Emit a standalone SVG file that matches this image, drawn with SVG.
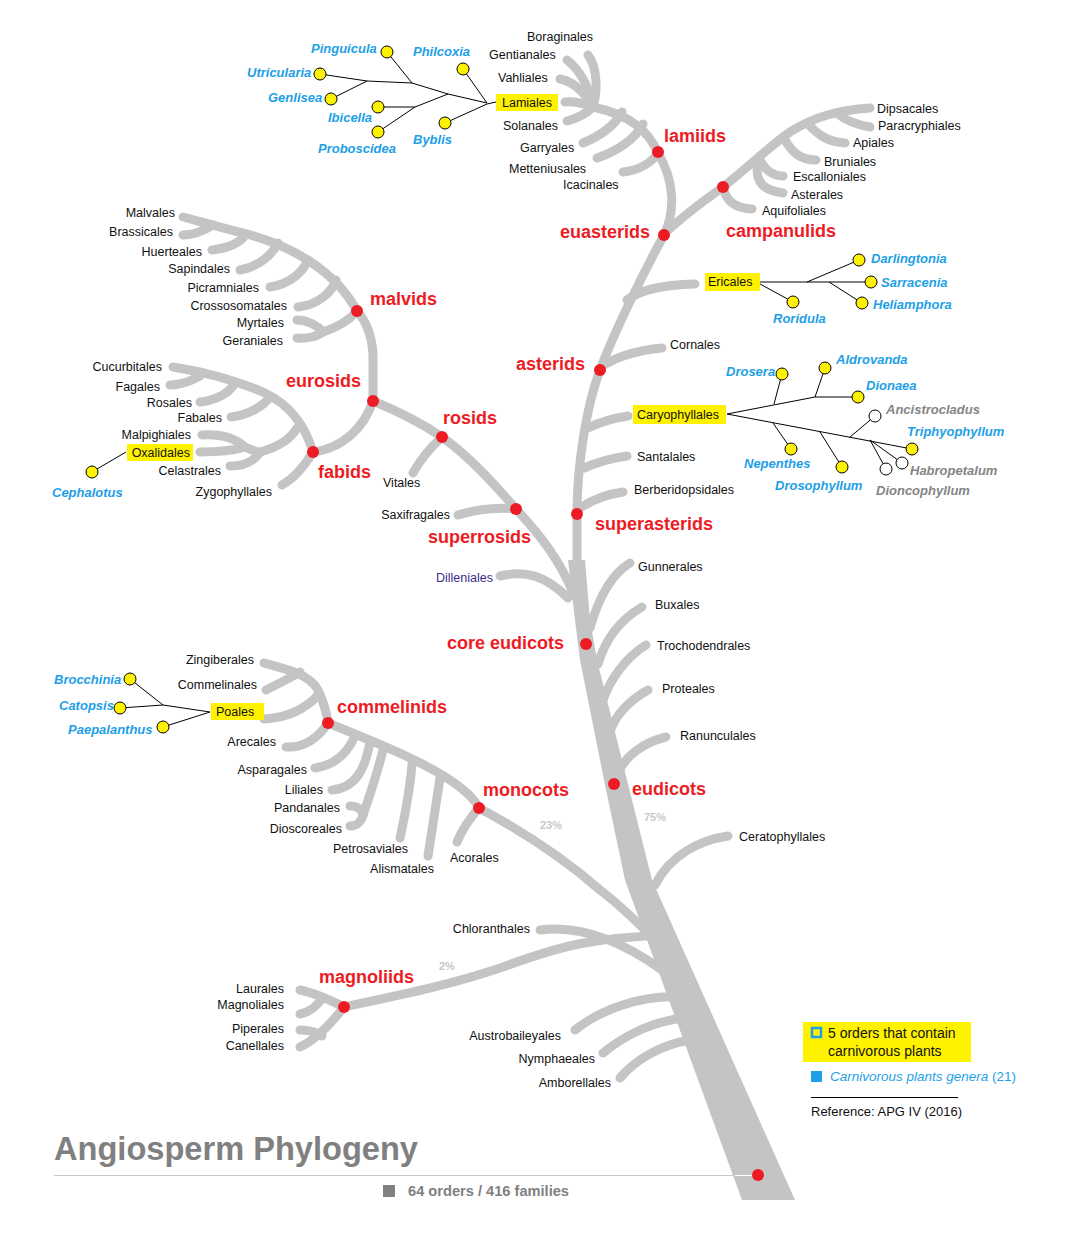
<svg xmlns="http://www.w3.org/2000/svg" width="1065" height="1239" viewBox="0 0 1065 1239">
<defs>
<style>
.br{fill:none;stroke:#c4c4c4;stroke-width:9;stroke-linecap:round;stroke-linejoin:round}
.ln{fill:none;stroke:#000;stroke-width:1}
.o{font-family:"Liberation Sans",Arial,sans-serif;font-size:12.5px;fill:#111}
.e{text-anchor:end}
.r{font-family:"Liberation Sans",Arial,sans-serif;font-size:18px;font-weight:bold;fill:#ed1c24}
.g{font-family:"Liberation Sans",Arial,sans-serif;font-size:13px;font-weight:bold;font-style:italic;fill:#1e9fe6}
.gg{fill:#858585}
.dot{fill:#ed1c24}
.yc{fill:#fff200;stroke:#000;stroke-width:1}
.wc{fill:#fff;stroke:#000;stroke-width:1}
.hl{fill:#fff200}
.pc{font-family:"Liberation Sans",Arial,sans-serif;font-size:11px;font-weight:bold;fill:#c8c8c8}
</style>
</defs>
<rect width="1065" height="1239" fill="#fff"/>

<g id="connectors">
<!-- trunk -->
<path d="M568,560 L575,620 L580,660 L604,780 L625,880 L742,1200 L795,1200 L652,880 L627,780 L597,660 L590,620 L585,560 Z" fill="#c4c4c4"/>
<path class="br" stroke-width="11" d="M577,575 L577,514 C577,470 585,410 600,370 C615,330 645,270 664,235 C676,210 674,180 658,153 C648,130 630,115 593,107"/>
<!-- lamiids -->
<path class="br" d="M588,55 C598,68 598,95 592,107"/>
<path class="br" d="M567,60 C580,70 590,88 592,107"/>
<path class="br" d="M560,79 C575,82 587,95 592,107"/>
<path class="br" d="M565,102 C575,101 585,104 593,107"/>
<path class="br" d="M567,121 C578,118 588,112 593,107"/>
<path class="br" d="M583,143 C600,136 615,125 622,112"/>
<path class="br" d="M597,158 C615,152 635,140 643,124"/>
<path class="br" d="M623,172 C640,170 652,162 658,153"/>
<!-- campanulids -->
<path class="br" d="M666,232 C690,210 705,200 723,187 C745,170 765,150 790,132 C815,116 840,110 870,108"/>
<path class="br" d="M838,114 C848,122 858,125 870,127"/>
<path class="br" d="M808,124 C818,135 828,142 845,143"/>
<path class="br" d="M785,140 C792,152 800,160 816,160"/>
<path class="br" d="M760,160 C765,170 772,176 783,176"/>
<path class="br" d="M757,168 C757,182 762,190 783,193"/>
<path class="br" d="M723,187 C726,200 733,208 752,209"/>
<!-- asterids -->
<path class="br" d="M627,300 C640,290 660,285 695,284"/>
<path class="br" d="M602,366 C620,355 640,350 662,348"/>
<path class="br" d="M588,428 C600,422 615,418 628,416"/>
<path class="br" d="M584,468 C598,462 612,458 627,456"/>
<path class="br" d="M580,508 C592,500 608,494 623,492"/>
<!-- rosids -->
<path class="br" d="M373,401 C395,410 420,422 442,437"/>
<path class="br" stroke-width="12" d="M442,437 C470,457 495,485 516,509"/>
<path class="br" stroke-width="15" d="M516,509 C540,535 560,560 574,595"/>
<path class="br" d="M442,437 C430,448 420,460 413,473"/>
<path class="br" d="M516,509 C495,507 475,510 458,515"/>
<!-- malvids -->
<path class="br" d="M373,401 L373,355 C372,335 365,320 357,311"/>
<path class="br" d="M357,311 C335,270 290,245 243,233 C215,226 195,220 183,217"/>
<path class="br" d="M183,235 C195,235 205,230 213,225"/>
<path class="br" d="M212,250 C228,248 240,243 245,235"/>
<path class="br" d="M240,270 C258,267 272,255 278,243"/>
<path class="br" d="M270,287 C290,284 303,272 308,260"/>
<path class="br" d="M298,307 C318,305 332,292 336,280"/>
<path class="br" d="M297,320 C308,320 318,326 323,332"/>
<path class="br" d="M297,338 C308,339 318,336 323,332"/>
<path class="br" d="M323,332 C335,328 348,322 357,311"/>
<!-- fabids -->
<path class="br" d="M373,401 C365,425 345,448 313,452"/>
<path class="br" d="M313,452 C305,465 295,478 282,485"/>
<path class="br" d="M313,452 C305,425 290,405 265,393 C240,382 205,372 173,367"/>
<path class="br" d="M170,385 C183,385 192,380 200,376"/>
<path class="br" d="M200,402 C218,400 230,392 235,383"/>
<path class="br" d="M231,417 C250,415 264,405 270,397"/>
<path class="br" d="M202,435 C220,434 235,438 245,447"/>
<path class="br" d="M200,452 C215,452 232,451 245,447"/>
<path class="br" d="M230,466 C245,466 255,460 260,452"/>
<path class="br" d="M245,447 C252,450 256,452 260,452 C275,448 290,440 297,428"/>
<!-- Dilleniales -->
<path class="br" d="M500,576 C525,570 545,575 568,598"/>
<!-- core eudicots -->
<path class="br" d="M630,563 C610,575 598,600 590,628"/>
<path class="br" d="M642,607 C620,620 605,640 598,664"/>
<path class="br" d="M646,645 C625,658 610,680 603,700"/>
<path class="br" d="M648,690 C630,700 615,715 610,732"/>
<path class="br" d="M666,737 C645,742 625,755 617,775"/>
<path class="br" d="M728,836 C700,840 670,855 655,885"/>
<!-- monocots -->
<path class="br" stroke-width="12" d="M479,808 C520,830 560,855 600,890 C620,905 635,920 650,935"/>
<path class="br" d="M328,723 C370,740 420,760 450,780 C465,790 475,800 479,808"/>
<path class="br" d="M264,663 C290,670 310,675 318,690 C325,705 327,715 328,723"/>
<path class="br" d="M266,690 C280,683 290,678 300,672"/>
<path class="br" d="M264,719 C285,718 305,710 318,695"/>
<path class="br" d="M286,747 C305,748 318,738 328,723"/>
<path class="br" d="M315,768 C335,765 348,752 355,736"/>
<path class="br" d="M332,790 C355,788 365,770 370,742"/>
<path class="br" d="M350,806 C358,806 362,810 363,815"/>
<path class="br" d="M350,826 C358,826 362,820 363,815"/>
<path class="br" d="M363,815 C370,795 378,770 383,750"/>
<path class="br" d="M400,838 C405,815 410,790 412,764"/>
<path class="br" d="M428,856 C432,830 436,805 440,778"/>
<path class="br" d="M479,808 C470,818 462,830 457,842"/>
<!-- magnoliids and basal -->
<path class="br" stroke-width="12" d="M344,1007 C400,995 450,985 500,968 C550,950 580,938 670,935"/>
<path class="br" d="M300,990 C315,993 330,1000 344,1007"/>
<path class="br" d="M300,1014 C310,1012 318,1005 322,998"/>
<path class="br" d="M300,1030 C310,1030 318,1033 322,1036"/>
<path class="br" d="M300,1047 C315,1040 330,1025 344,1007"/>
<path class="br" d="M540,930 C580,925 620,940 662,970"/>
<path class="br" d="M575,1030 C600,1010 640,995 680,997"/>
<path class="br" d="M603,1053 C625,1035 655,1020 686,1018"/>
<path class="br" d="M620,1078 C635,1060 660,1045 690,1040"/>
<!-- base line -->
<line x1="54" y1="1175.5" x2="735" y2="1175.5" stroke="#c8c8c8" stroke-width="1"/>
<line x1="735" y1="1175.5" x2="752" y2="1175.5" stroke="#fff" stroke-width="1"/>
<!-- genera lines -->
<path class="ln" d="M320,74 L367,81 L412,83 L448,94 L487,103 M331,99 L367,81 M387,52 L412,83 M378,107 L415,107 L448,94 M378,132 L415,107 M463,69 L487,103 M445,123 L487,104 L496,102"/>
<path class="ln" d="M760,282 L871,282 M807,282 L859,260 M829,282 L862,303 M760,284 L793,302"/>
<path class="ln" d="M727,414 L815,397 L858,397 M782,374 L774,404 M825,368 L815,397 M727,414 L912,449 M773,423 L791,449 M820,432 L842,467 M850,437 L875,416 M870,440 L902,463 M870,440 L886,469"/>
<path class="ln" d="M126,452 L92,472"/>
<path class="ln" d="M130,679 L163,705 L210,712 M120,708 L163,705 M163,727 L210,712"/>
</g>

<g id="lamiales-genera">
<circle class="yc" cx="387" cy="52" r="6"/><circle class="yc" cx="463" cy="69" r="6"/>
<circle class="yc" cx="320" cy="74" r="6"/><circle class="yc" cx="331" cy="99" r="6"/>
<circle class="yc" cx="378" cy="107" r="6"/><circle class="yc" cx="378" cy="132" r="6"/>
<circle class="yc" cx="445" cy="123" r="6"/>
<text class="g" x="311" y="53">Pinguicula</text>
<text class="g" x="413" y="56">Philcoxia</text>
<text class="g" x="247" y="77">Utricularia</text>
<text class="g" x="268" y="102">Genlisea</text>
<text class="g" x="328" y="122">Ibicella</text>
<text class="g" x="318" y="153">Proboscidea</text>
<text class="g" x="413" y="144">Byblis</text>
</g>

<g id="lamiids">
<rect class="hl" x="496" y="94" width="62" height="17"/>
<text class="o" x="527" y="107" text-anchor="middle">Lamiales</text>
<text class="o" x="527" y="41">Boraginales</text>
<text class="o" x="489" y="59">Gentianales</text>
<text class="o" x="498" y="82">Vahliales</text>
<text class="o" x="503" y="130">Solanales</text>
<text class="o" x="520" y="152">Garryales</text>
<text class="o" x="509" y="173">Metteniusales</text>
<text class="o" x="563" y="189">Icacinales</text>
<circle class="dot" cx="658" cy="152" r="6"/>
<text class="r" x="664" y="142">lamiids</text>
</g>

<g id="campanulids">
<text class="o" x="877" y="113">Dipsacales</text>
<text class="o" x="878" y="130">Paracryphiales</text>
<text class="o" x="853" y="147">Apiales</text>
<text class="o" x="824" y="166">Bruniales</text>
<text class="o" x="793" y="181">Escalloniales</text>
<text class="o" x="791" y="199">Asterales</text>
<text class="o" x="762" y="215">Aquifoliales</text>
<circle class="dot" cx="723" cy="187" r="6"/>
<text class="r" x="726" y="237">campanulids</text>
</g>

<g id="euasterids">
<circle class="dot" cx="664" cy="235" r="6"/>
<text class="r" x="560" y="238">euasterids</text>
</g>

<g id="ericales">
<rect class="hl" x="705" y="273" width="55" height="18"/>
<text class="o" x="708" y="286">Ericales</text>
<circle class="yc" cx="859" cy="260" r="6"/><circle class="yc" cx="871" cy="282" r="6"/>
<circle class="yc" cx="862" cy="303" r="6"/><circle class="yc" cx="793" cy="302" r="6"/>
<text class="g" x="871" y="263">Darlingtonia</text>
<text class="g" x="881" y="287">Sarracenia</text>
<text class="g" x="873" y="309">Heliamphora</text>
<text class="g" x="773" y="323">Roridula</text>
</g>

<g id="asterids">
<text class="o" x="670" y="349">Cornales</text>
<circle class="dot" cx="600" cy="370" r="6"/>
<text class="r" x="516" y="370">asterids</text>
</g>

<g id="caryophyllales">
<rect class="hl" x="633" y="405" width="93" height="19"/>
<text class="o" x="637" y="419">Caryophyllales</text>
<circle class="yc" cx="782" cy="374" r="6"/><circle class="yc" cx="825" cy="368" r="6"/>
<circle class="yc" cx="858" cy="397" r="6"/><circle class="wc" cx="875" cy="416" r="6"/>
<circle class="yc" cx="912" cy="449" r="6"/><circle class="wc" cx="902" cy="463" r="6"/>
<circle class="wc" cx="886" cy="469" r="6"/><circle class="yc" cx="791" cy="449" r="6"/>
<circle class="yc" cx="842" cy="467" r="6"/>
<text class="g" x="726" y="376">Drosera</text>
<text class="g" x="836" y="364">Aldrovanda</text>
<text class="g" x="866" y="390">Dionaea</text>
<text class="g gg" x="886" y="414">Ancistrocladus</text>
<text class="g" x="907" y="436">Triphyophyllum</text>
<text class="g gg" x="910" y="475">Habropetalum</text>
<text class="g gg" x="876" y="495">Dioncophyllum</text>
<text class="g" x="744" y="468">Nepenthes</text>
<text class="g" x="775" y="490">Drosophyllum</text>
</g>

<g id="superasterids">
<text class="o" x="637" y="461">Santalales</text>
<text class="o" x="634" y="494">Berberidopsidales</text>
<circle class="dot" cx="577" cy="514" r="6"/>
<text class="r" x="595" y="530">superasterids</text>
</g>

<g id="malvids">
<text class="o e" x="175" y="217">Malvales</text>
<text class="o e" x="173" y="236">Brassicales</text>
<text class="o e" x="202" y="256">Huerteales</text>
<text class="o e" x="230" y="273">Sapindales</text>
<text class="o e" x="259" y="292">Picramniales</text>
<text class="o e" x="287" y="310">Crossosomatales</text>
<text class="o e" x="284" y="327">Myrtales</text>
<text class="o e" x="283" y="345">Geraniales</text>
<circle class="dot" cx="357" cy="311" r="6"/>
<text class="r" x="370" y="305">malvids</text>
</g>

<g id="eurosids">
<circle class="dot" cx="373" cy="401" r="6"/>
<text class="r" x="286" y="387">eurosids</text>
</g>

<g id="fabids">
<text class="o e" x="162" y="371">Cucurbitales</text>
<text class="o e" x="160" y="391">Fagales</text>
<text class="o e" x="192" y="407">Rosales</text>
<text class="o e" x="222" y="422">Fabales</text>
<text class="o e" x="191" y="439">Malpighiales</text>
<rect class="hl" x="127" y="444" width="66" height="17"/>
<text class="o e" x="190" y="457">Oxalidales</text>
<text class="o e" x="221" y="475">Celastrales</text>
<text class="o e" x="272" y="496">Zygophyllales</text>
<circle class="yc" cx="92" cy="472" r="6"/>
<text class="g" x="52" y="497">Cephalotus</text>
<circle class="dot" cx="313" cy="452" r="6"/>
<text class="r" x="318" y="478">fabids</text>
</g>

<g id="rosids">
<circle class="dot" cx="442" cy="437" r="6"/>
<text class="r" x="443" y="424">rosids</text>
<text class="o" x="383" y="487">Vitales</text>
</g>

<g id="superrosids">
<text class="o e" x="450" y="519">Saxifragales</text>
<circle class="dot" cx="516" cy="509" r="6"/>
<text class="r" x="428" y="543">superrosids</text>
<text class="o e" x="493" y="582" style="fill:#3d2b8f">Dilleniales</text>
</g>

<g id="core-eudicots">
<text class="o" x="638" y="571">Gunnerales</text>
<text class="o" x="655" y="609">Buxales</text>
<text class="o" x="657" y="650">Trochodendrales</text>
<text class="o" x="662" y="693">Proteales</text>
<text class="o" x="680" y="740">Ranunculales</text>
<circle class="dot" cx="586" cy="644" r="6"/>
<text class="r" x="447" y="649">core eudicots</text>
</g>

<g id="eudicots">
<circle class="dot" cx="614" cy="784" r="6"/>
<text class="r" x="632" y="795">eudicots</text>
<text class="pc" x="644" y="821">75%</text>
<text class="o" x="739" y="841">Ceratophyllales</text>
</g>

<g id="commelinids">
<text class="o e" x="254" y="664">Zingiberales</text>
<text class="o e" x="257" y="689">Commelinales</text>
<rect class="hl" x="211" y="703" width="53" height="17"/>
<text class="o" x="216" y="716">Poales</text>
<text class="o e" x="276" y="746">Arecales</text>
<circle class="yc" cx="130" cy="679" r="6"/><circle class="yc" cx="120" cy="708" r="6"/>
<circle class="yc" cx="163" cy="727" r="6"/>
<text class="g" x="54" y="684">Brocchinia</text>
<text class="g" x="59" y="710">Catopsis</text>
<text class="g" x="68" y="734">Paepalanthus</text>
<circle class="dot" cx="328" cy="723" r="6"/>
<text class="r" x="337" y="713">commelinids</text>
</g>

<g id="monocots">
<text class="o e" x="307" y="774">Asparagales</text>
<text class="o e" x="323" y="794">Liliales</text>
<text class="o e" x="340" y="812">Pandanales</text>
<text class="o e" x="342" y="833">Dioscoreales</text>
<text class="o e" x="408" y="853">Petrosaviales</text>
<text class="o e" x="434" y="873">Alismatales</text>
<text class="o" x="450" y="862">Acorales</text>
<circle class="dot" cx="479" cy="808" r="6"/>
<text class="r" x="483" y="796">monocots</text>
<text class="pc" x="540" y="829">23%</text>
</g>

<g id="magnoliids">
<text class="o e" x="530" y="933">Chloranthales</text>
<text class="o e" x="284" y="993">Laurales</text>
<text class="o e" x="284" y="1009">Magnoliales</text>
<text class="o e" x="284" y="1033">Piperales</text>
<text class="o e" x="284" y="1050">Canellales</text>
<circle class="dot" cx="344" cy="1007" r="6"/>
<text class="r" x="319" y="983">magnoliids</text>
<text class="pc" x="439" y="970">2%</text>
</g>

<g id="basal">
<text class="o e" x="561" y="1040">Austrobaileyales</text>
<text class="o e" x="595" y="1063">Nymphaeales</text>
<text class="o e" x="611" y="1087">Amborellales</text>
<circle class="dot" cx="758" cy="1175" r="6"/>
</g>

<g id="legend">
<rect x="803" y="1022" width="168" height="40" fill="#fff200"/>
<rect x="812" y="1028" width="9" height="9" fill="#fff200" stroke="#1e9fe6" stroke-width="2.5"/>
<text x="828" y="1038" font-family="Liberation Sans,Arial,sans-serif" font-size="14" fill="#111">5 orders that contain</text>
<text x="828" y="1056" font-family="Liberation Sans,Arial,sans-serif" font-size="14" fill="#111">carnivorous plants</text>
<rect x="811" y="1071" width="11" height="11" fill="#1e9fe6"/>
<text x="830" y="1081" font-family="Liberation Sans,Arial,sans-serif" font-size="13.5" fill="#1e9fe6"><tspan font-style="italic">Carnivorous plants genera</tspan> (21)</text>
<line x1="811" y1="1097.5" x2="958" y2="1097.5" stroke="#000" stroke-width="1"/>
<text x="811" y="1116" font-family="Liberation Sans,Arial,sans-serif" font-size="13" fill="#111">Reference: APG IV (2016)</text>
</g>

<g id="title">
<text x="54" y="1160" font-family="Liberation Sans Narrow,Liberation Sans,Arial,sans-serif" font-size="34" font-weight="bold" fill="#808080" textLength="364" lengthAdjust="spacingAndGlyphs">Angiosperm Phylogeny</text>
<rect x="383" y="1185" width="12" height="12" fill="#808080"/>
<text x="408" y="1196" font-family="Liberation Sans Narrow,Liberation Sans,Arial,sans-serif" font-size="15" font-weight="bold" fill="#808080" textLength="161" lengthAdjust="spacingAndGlyphs">64 orders / 416 families</text>
</g>
</svg>
